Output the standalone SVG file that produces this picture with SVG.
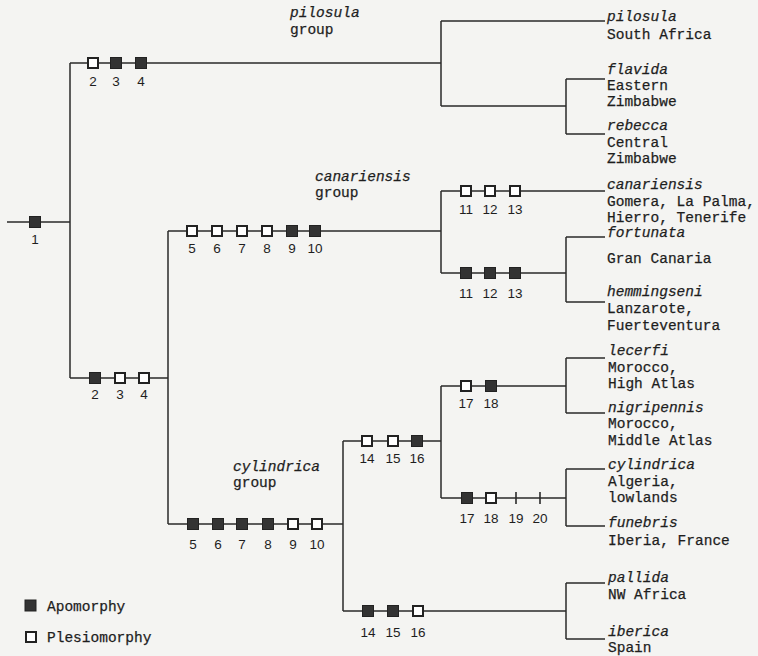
<svg xmlns="http://www.w3.org/2000/svg" width="758" height="656" viewBox="0 0 758 656">
<style>
.bg{fill:#f4f4f2}
.ln{stroke:#2a2a2a;stroke-width:1.5;fill:none}
.ap{fill:#333;stroke:#222;stroke-width:1}
.pl{fill:#fff;stroke:#222;stroke-width:2}
.tk{stroke:#2a2a2a;stroke-width:1.6}
.num{font-family:"Liberation Sans",Arial,sans-serif;font-size:13.5px;fill:#1e1e1e;text-anchor:middle}
.tx{font-family:"Liberation Mono","Courier New",monospace;font-size:14.5px;fill:#1e1e1e;stroke:#1e1e1e;stroke-width:0.25}
.it{font-style:italic}
</style>
<defs>
<rect id="a" class="ap" x="-5.5" y="-5.5" width="11" height="11"/>
<rect id="p" class="pl" x="-5" y="-5" width="10" height="10"/>
</defs>
<rect class="bg" x="0" y="0" width="758" height="656"/>
<g id="connectors">
<path class="ln" d="M7 222H70M70 63V378M70 63H441M441 21V106M441 21H605M441 106H566M566 79V134M566 79H605M566 134H605"/>
<path class="ln" d="M70 378H168M168 231V524M168 231H441M441 191V273M441 191H605M441 273H566M566 237V302M566 237H605M566 302H605"/>
<path class="ln" d="M168 524H343M343 441V611M343 441H441M441 386V498M441 386H566M566 358V413M566 358H605M566 413H605M441 498H566M566 469V526M566 469H605M566 526H605M343 611H566M566 583V639M566 583H605M566 639H605"/>
<line class="tk" x1="516" y1="492" x2="516" y2="504"/>
<line class="tk" x1="540" y1="492" x2="540" y2="504"/>
</g>
<g id="characters">
<use href="#a" x="35" y="222"/>
<use href="#p" x="93" y="63"/><use href="#a" x="116" y="63"/><use href="#a" x="141" y="63"/>
<use href="#a" x="95" y="378"/><use href="#p" x="120" y="378"/><use href="#p" x="144" y="378"/>
<use href="#p" x="192" y="231"/><use href="#p" x="217" y="231"/><use href="#p" x="242" y="231"/><use href="#p" x="267" y="231"/><use href="#a" x="292" y="231"/><use href="#a" x="315" y="231"/>
<use href="#a" x="193" y="524"/><use href="#a" x="218" y="524"/><use href="#a" x="242" y="524"/><use href="#a" x="268" y="524"/><use href="#p" x="293" y="524"/><use href="#p" x="317" y="524"/>
<use href="#p" x="466" y="191"/><use href="#p" x="490" y="191"/><use href="#p" x="515" y="191"/>
<use href="#a" x="466" y="273"/><use href="#a" x="490" y="273"/><use href="#a" x="515" y="273"/>
<use href="#p" x="367" y="441"/><use href="#p" x="393" y="441"/><use href="#a" x="417" y="441"/>
<use href="#p" x="466" y="386"/><use href="#a" x="491" y="386"/>
<use href="#a" x="467" y="498"/><use href="#p" x="491" y="498"/>
<use href="#a" x="368" y="611"/><use href="#a" x="393" y="611"/><use href="#p" x="418" y="611"/>
</g>
<g id="numbers">
<text class="num" x="35" y="244">1</text>
<text class="num" x="93" y="86">2</text><text class="num" x="116" y="86">3</text><text class="num" x="141" y="86">4</text>
<text class="num" x="95" y="399">2</text><text class="num" x="120" y="399">3</text><text class="num" x="144" y="399">4</text>
<text class="num" x="192" y="253">5</text><text class="num" x="217" y="253">6</text><text class="num" x="242" y="253">7</text><text class="num" x="267" y="253">8</text><text class="num" x="292" y="253">9</text><text class="num" x="315" y="253">10</text>
<text class="num" x="193" y="549">5</text><text class="num" x="218" y="549">6</text><text class="num" x="242" y="549">7</text><text class="num" x="268" y="549">8</text><text class="num" x="293" y="549">9</text><text class="num" x="317" y="549">10</text>
<text class="num" x="466" y="214">11</text><text class="num" x="490" y="214">12</text><text class="num" x="515" y="214">13</text>
<text class="num" x="466" y="298">11</text><text class="num" x="490" y="298">12</text><text class="num" x="515" y="298">13</text>
<text class="num" x="367" y="463">14</text><text class="num" x="393" y="463">15</text><text class="num" x="417" y="463">16</text>
<text class="num" x="466" y="408">17</text><text class="num" x="491" y="408">18</text>
<text class="num" x="467" y="523">17</text><text class="num" x="491" y="523">18</text><text class="num" x="516" y="523">19</text><text class="num" x="540" y="523">20</text>
<text class="num" x="368" y="637">14</text><text class="num" x="393" y="637">15</text><text class="num" x="418" y="637">16</text>
</g>
<g id="groups">
<text class="tx" x="290" y="17"><tspan class="it">pilosula</tspan><tspan x="290" y="34">group</tspan></text>
<text class="tx" x="315" y="181"><tspan class="it">canariensis</tspan><tspan x="315" y="197">group</tspan></text>
<text class="tx" x="233" y="471"><tspan class="it">cylindrica</tspan><tspan x="233" y="487">group</tspan></text>
</g>
<g id="taxon-pilosula"><text class="tx" x="607" y="21"><tspan class="it">pilosula</tspan><tspan x="607" y="39">South Africa</tspan></text></g>
<g id="taxon-flavida"><text class="tx" x="607" y="74"><tspan class="it">flavida</tspan><tspan x="607" y="90">Eastern</tspan><tspan x="607" y="106">Zimbabwe</tspan></text></g>
<g id="taxon-rebecca"><text class="tx" x="607" y="130"><tspan class="it">rebecca</tspan><tspan x="607" y="147">Central</tspan><tspan x="607" y="163">Zimbabwe</tspan></text></g>
<g id="taxon-canariensis"><text class="tx" x="607" y="189"><tspan class="it">canariensis</tspan><tspan x="607" y="206">Gomera, La Palma,</tspan><tspan x="607" y="222">Hierro, Tenerife</tspan></text></g>
<g id="taxon-fortunata"><text class="tx" x="607" y="237"><tspan class="it">fortunata</tspan><tspan x="607" y="263">Gran Canaria</tspan></text></g>
<g id="taxon-hemmingseni"><text class="tx" x="607" y="296"><tspan class="it">hemmingseni</tspan><tspan x="607" y="313">Lanzarote,</tspan><tspan x="607" y="330">Fuerteventura</tspan></text></g>
<g id="taxon-lecerfi"><text class="tx" x="608" y="355"><tspan class="it">lecerfi</tspan><tspan x="608" y="372">Morocco,</tspan><tspan x="608" y="388">High Atlas</tspan></text></g>
<g id="taxon-nigripennis"><text class="tx" x="608" y="412"><tspan class="it">nigripennis</tspan><tspan x="608" y="428">Morocco,</tspan><tspan x="608" y="445">Middle Atlas</tspan></text></g>
<g id="taxon-cylindrica"><text class="tx" x="608" y="469"><tspan class="it">cylindrica</tspan><tspan x="608" y="486">Algeria,</tspan><tspan x="608" y="502">lowlands</tspan></text></g>
<g id="taxon-funebris"><text class="tx" x="608" y="527"><tspan class="it">funebris</tspan><tspan x="608" y="545">Iberia, France</tspan></text></g>
<g id="taxon-pallida"><text class="tx" x="608" y="582"><tspan class="it">pallida</tspan><tspan x="608" y="599">NW Africa</tspan></text></g>
<g id="taxon-iberica"><text class="tx" x="608" y="636"><tspan class="it">iberica</tspan><tspan x="608" y="652">Spain</tspan></text></g>
<g id="legend">
<rect class="ap" x="25" y="600" width="11" height="11"/>
<text class="tx" x="47" y="611">Apomorphy</text>
<rect class="pl" x="26" y="632" width="10" height="10"/>
<text class="tx" x="47" y="642">Plesiomorphy</text>
</g>
</svg>
